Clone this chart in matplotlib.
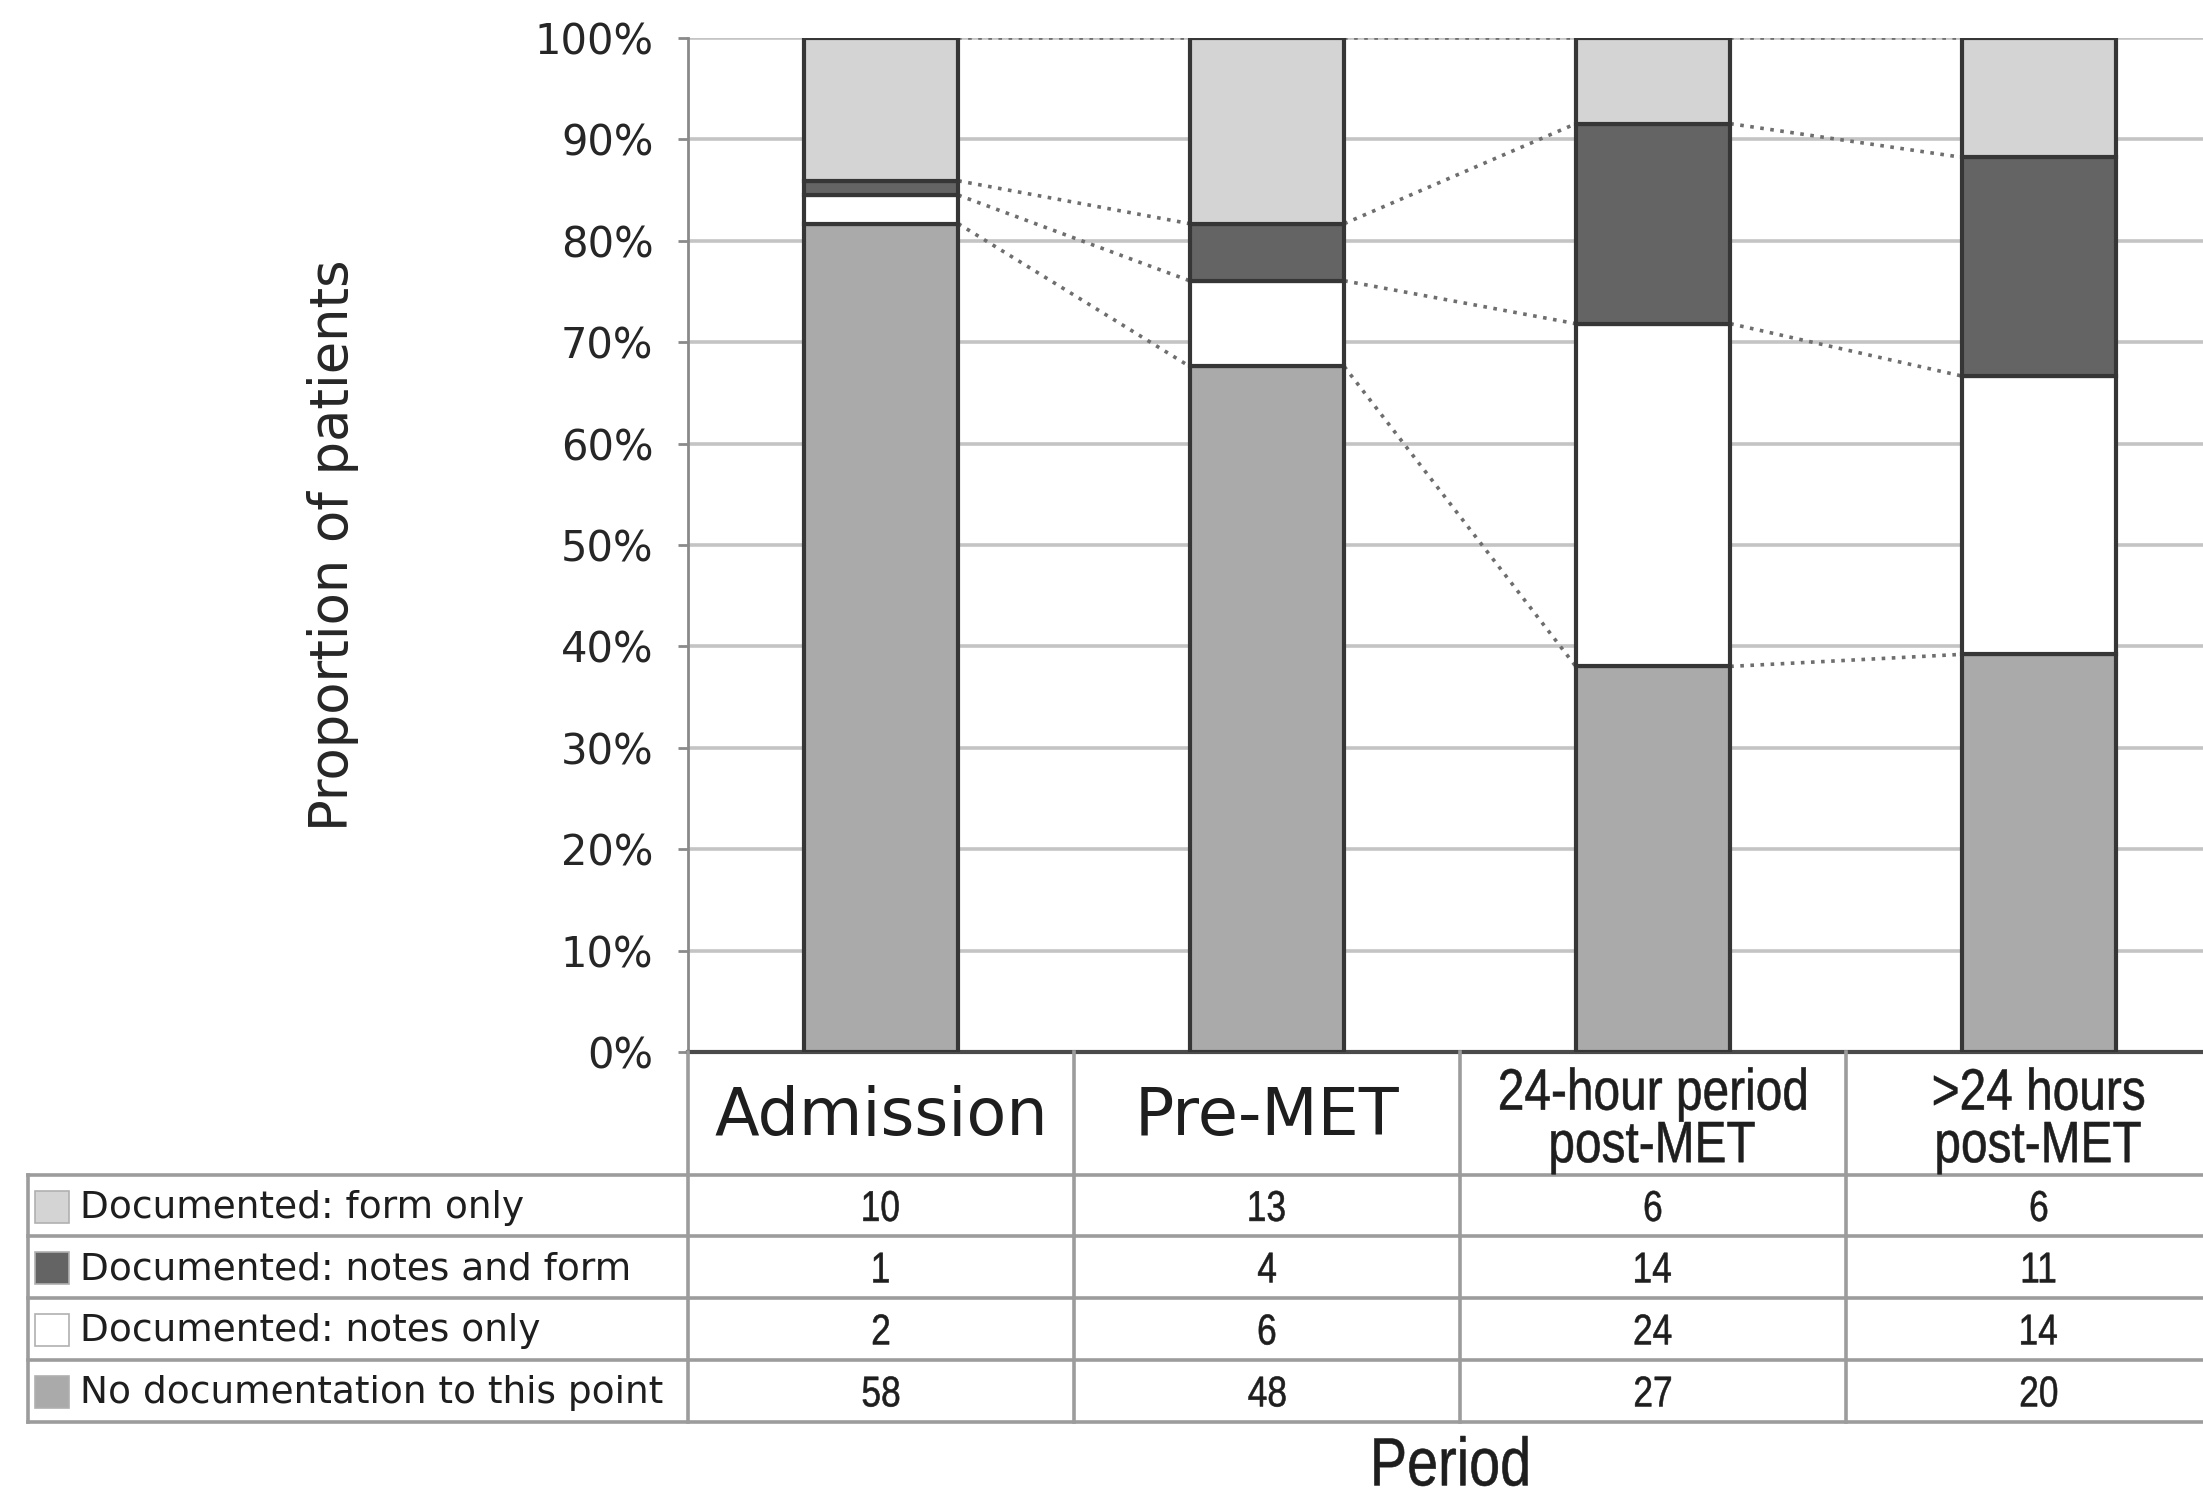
import numpy as np
import matplotlib
matplotlib.use('Agg')
import matplotlib.pyplot as plt
from matplotlib.patches import Rectangle, PathPatch
from matplotlib.textpath import TextPath
from matplotlib.font_manager import FontProperties
from matplotlib.transforms import Affine2D

# documentation status counts per period
periods = ['Admission', 'Pre-MET', '24-hour period\npost-MET', '>24 hours\npost-MET']
series = ['Documented: form only', 'Documented: notes and form',
          'Documented: notes only', 'No documentation to this point']
form_only = [10, 13, 6, 6]
notes_and_form = [1, 4, 14, 11]
notes_only = [2, 6, 24, 14]
no_doc = [58, 48, 27, 20]
yticks = [0, 10, 20, 30, 40, 50, 60, 70, 80, 90, 100]

colours = {'form': '#d4d4d4', 'both': '#646464', 'notes': '#ffffff', 'none': '#aaaaaa'}

plt.rcParams['font.family'] = 'DejaVu Sans'

W, H = 2203, 1490
fig = plt.figure(figsize=(W / 100, H / 100), dpi=100)


def box(x0, y0, x1, y1):
    return [x0 / W, 1 - y1 / H, (x1 - x0) / W, (y1 - y0) / H]


def narrow_text(xd, yd, s, size_pt, squeeze=0.82, pitch=1.0, color='#1e1e1e'):
    # condensed sans text drawn as paths, centred on display point (xd, yd)
    fp = FontProperties(family='Liberation Sans')
    size_px = size_pt * fig.dpi / 72
    lines = s.split('\n')
    n = len(lines)
    step = pitch * size_px
    for j, line in enumerate(lines):
        tp = TextPath((0, 0), line, size=size_px, prop=fp)
        ext = tp.get_extents()
        w = ext.width * squeeze
        yc = yd + (n - 1) / 2 * step - j * step
        base = yc - 0.716 * size_px / 2
        tr = Affine2D().scale(squeeze, 1).translate(xd - w / 2 - ext.x0 * squeeze, base)
        patch = PathPatch(tr.transform_path(tp), facecolor=color, edgecolor=color,
                          lw=0.4, transform=None)
        fig.add_artist(patch)


# stacked percentages, bottom to top
counts = np.array([no_doc, notes_only, notes_and_form, form_only], dtype=float)
pct = counts / counts.sum(axis=0) * 100
cum = np.cumsum(pct, axis=0)
fills = [colours['none'], colours['notes'], colours['both'], colours['form']]

ax = fig.add_axes(box(688, 38, 2232, 1052))
x = np.arange(len(periods))
bw = 0.4
bottom = np.zeros(len(periods))
for k in range(4):
    ax.bar(x, pct[k], width=bw, bottom=bottom, color=fills[k],
           edgecolor='#363636', linewidth=3, zorder=3)
    bottom += pct[k]

# series lines between bars
for k in range(4):
    for i in range(len(periods) - 1):
        ax.plot([x[i] + bw / 2, x[i + 1] - bw / 2], [cum[k][i], cum[k][i + 1]],
                ls=(0, (1, 1.8)), color='#6e6e6e', lw=2.6, zorder=2.5)

ax.set_xlim(-0.5, 3.5)
ax.set_ylim(0, 100)
ax.set_yticks(yticks)
ax.set_yticklabels([f'{v}%' for v in yticks])
ax.set_xticks([])
ax.yaxis.grid(True, color='#c4c4c4', lw=2.6)
ax.set_axisbelow(True)
for s in ['top', 'right']:
    ax.spines[s].set_visible(False)
ax.spines['left'].set_color('#8a8a8a')
ax.spines['left'].set_linewidth(2)
ax.spines['bottom'].set_color('#4a4a4a')
ax.spines['bottom'].set_linewidth(3)
ax.tick_params(axis='y', direction='out', length=7, width=2, color='#8a8a8a',
               labelsize=30, labelcolor='#262626', pad=18)

fig.text(333 / W, 1 - 545 / H, 'Proportion of patients', rotation=90,
         ha='center', va='center', fontsize=38, color='#262626')

# data table under the chart
tab = fig.add_axes(box(28, 1052, 2232, 1422))
xl = -0.5 - 660 / 386
tab.set_xlim(xl, 3.5)
tab.set_ylim(370, 0)
tab.axis('off')
edges = [0, 123, 184, 246, 308, 370]
line_kw = dict(color='#9c9c9c', lw=2.6, clip_on=False)
for e in edges[1:]:
    tab.plot([xl, 3.5], [e, e], **line_kw)
tab.plot([xl, xl], [edges[1], edges[-1]], **line_kw)
for v in [-0.5, 0.5, 1.5, 2.5]:
    tab.plot([v, v], [0, edges[-1]], **line_kw)

fig.canvas.draw()
for i, p in enumerate(periods):
    if '\n' in p:
        xd, yd = tab.transData.transform((x[i], 63))
        narrow_text(xd, yd, p, 42, pitch=0.9)
    else:
        tab.text(x[i], 65, p, ha='center', va='center', fontsize=47,
                 color='#1e1e1e')

rows = [form_only, notes_and_form, notes_only, no_doc]
row_fill = [colours['form'], colours['both'], colours['notes'], colours['none']]
for r, (name, vals, fc) in enumerate(zip(series, rows, row_fill)):
    yc = (edges[r + 1] + edges[r + 2]) / 2
    tab.add_patch(Rectangle((xl + 7 / 386, yc - 15), 34 / 386, 32,
                            facecolor=fc, edgecolor='#b0b0b0', lw=1.2))
    tab.text(xl + 52 / 386, yc + 2, name, ha='left', va='center',
             fontsize=27, color='#1e1e1e')
    for i, v in enumerate(vals):
        xd, yd = tab.transData.transform((x[i], yc))
        narrow_text(xd, yd, str(v), 31)

narrow_text(1451, H - 1461, 'Period', 49)

fig.savefig('out.png', dpi=100)
